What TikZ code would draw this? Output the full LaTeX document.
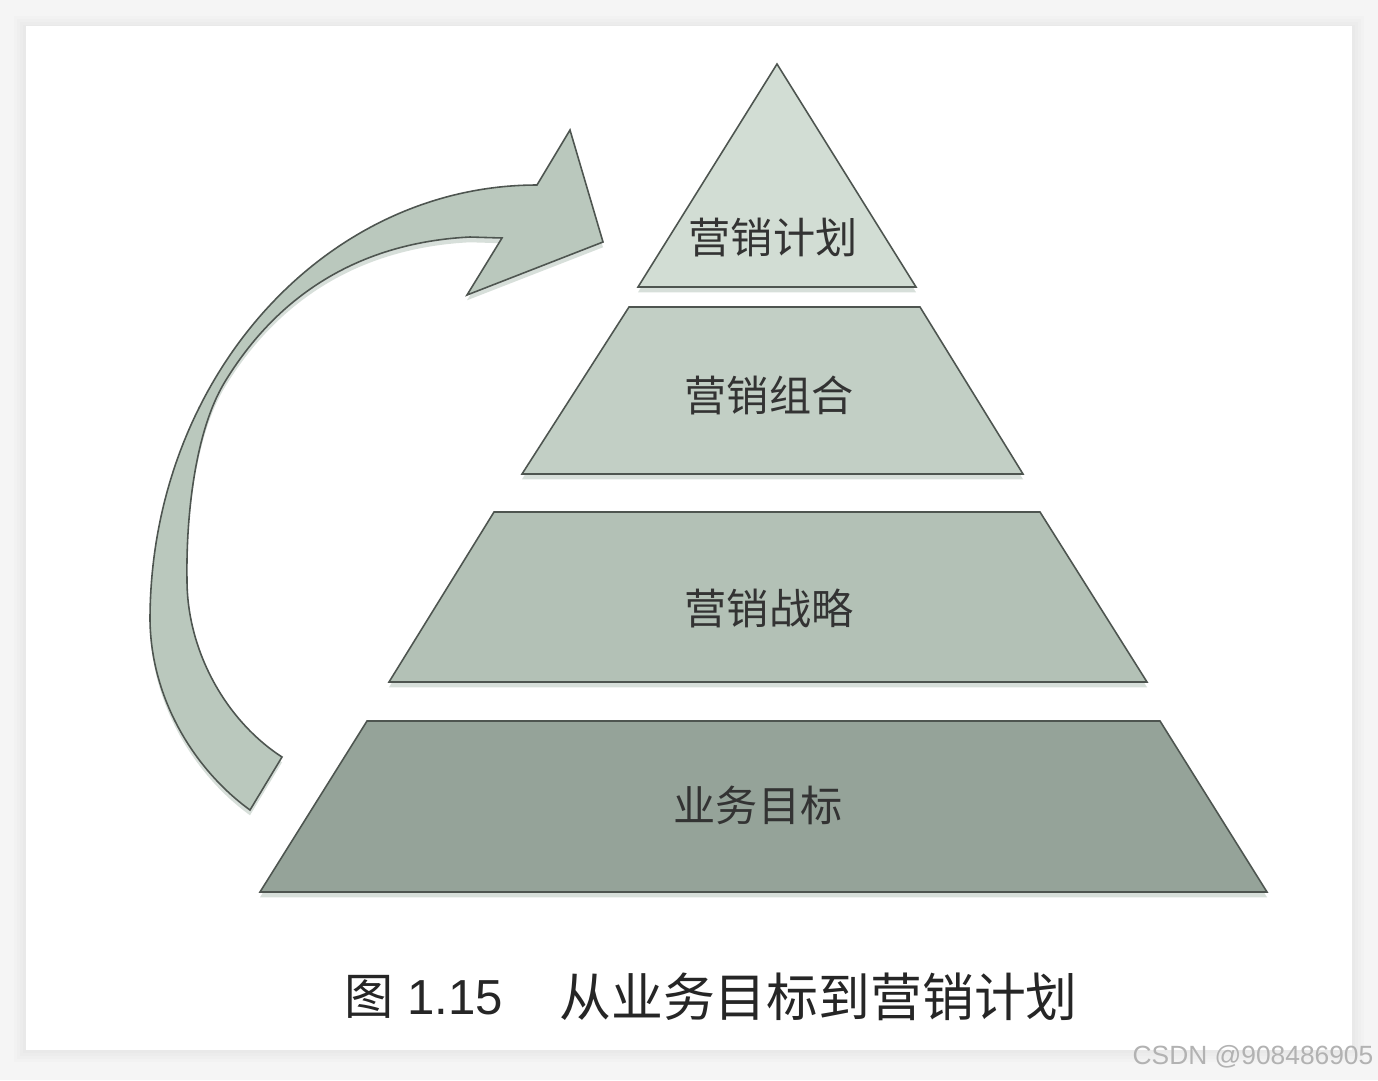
\documentclass[tikz,border=0pt]{standalone}
\usepackage{fontspec}
\setmainfont{Liberation Sans}
\newfontfamily\cjk{Noto Sans CJK SC}
\usepackage{xcolor}
\usepackage{tikz}
\usetikzlibrary{shadows, positioning, calc}

\definecolor{tipfill}{HTML}{D2DDD4}
\definecolor{mixfill}{HTML}{C2CFC5}
\definecolor{stratfill}{HTML}{B3C1B6}
\definecolor{goalfill}{HTML}{95A399}
\definecolor{arrowfill}{HTML}{BAC8BD}
\definecolor{edgegray}{HTML}{4E5550}
\definecolor{shadegreen}{HTML}{8FA595}

\begin{document}
\begin{tikzpicture}[
    x=0.02cm, y=-0.02cm,
    layer/.style={draw=edgegray, line width=0.9pt, line join=miter,
        drop shadow={shadow xshift=0pt, shadow yshift=-3pt, opacity=0.35, fill=shadegreen}},
    bigarrow/.style={layer, fill=arrowfill},
    layertext/.style={font=\cjk\fontsize{24pt}{26pt}\selectfont, text=black!80, inner sep=0pt},
    captiontext/.style={font=\fontsize{28pt}{30pt}\selectfont, text=black!85, inner sep=0pt, anchor=west},
    titletext/.style={captiontext, font=\cjk\fontsize{29.5pt}{31pt}\selectfont},
    marktext/.style={font=\fontsize{15pt}{17pt}\selectfont, text=black!30, inner sep=0pt}
]

% page and card
\fill[black!4] (0,0) rectangle (1378,1080);
\foreach \d in {12,9,6,3}
    \fill[black, opacity=0.012] (26-\d,26-\d+2) rectangle (1352+\d,1050+\d);
\fill[white] (26,26) rectangle (1352,1050);

% curved arrow
\path[bigarrow]
    (250,810) .. controls (195,770) and (151,700) .. (150,620)
    arc[start angle=180, end angle=270, x radius=387, y radius=435]
    -- (570,130) -- (603,242) -- (467,295) -- (502,238) -- (470,237)
    .. controls (370,242) and (284,286) .. (226,380)
    .. controls (194,431) and (186,520) .. (187,580)
    .. controls (187,650) and (225,720) .. (282,757)
    -- cycle;

% pyramid layers
\path[layer, fill=goalfill] (367,721) -- (1160,721) -- (1267,892) -- (260,892) -- cycle;
\path[layer, fill=stratfill] (494,512) -- (1040,512) -- (1147,682) -- (389,682) -- cycle;
\path[layer, fill=mixfill] (629,307) -- (920,307) -- (1023,474) -- (522,474) -- cycle;
\path[layer, fill=tipfill] (777,64) -- (916,287) -- (638,287) -- cycle;

% labels
\node[layertext] (plan) at (773,238) {营销计划};
\node[layertext] (mix) at (769,395) {营销组合};
\node[layertext] (strategy) at (769,608) {营销战略};
\node[layertext] (goal) at (758,805) {业务目标};

% caption
\node[captiontext] (fignum) at (344,997) {{\cjk 图} 1.15};
\node[titletext] (figtitle) at (559,997) {从业务目标到营销计划};

% watermark
\node[marktext] (mark) at (1253,1057) {CSDN @908486905};

\end{tikzpicture}
\end{document}
